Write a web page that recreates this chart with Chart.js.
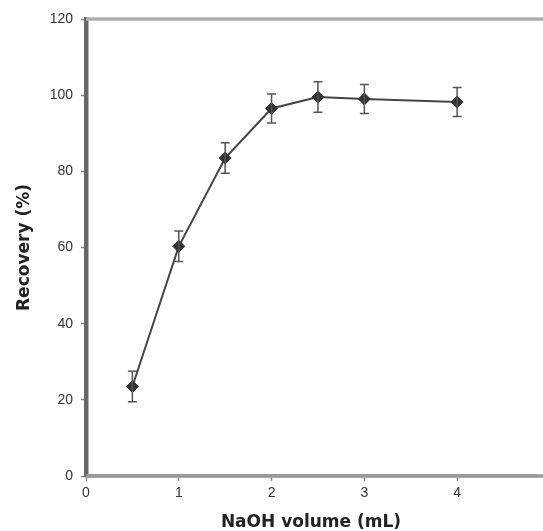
<!DOCTYPE html>
<html>
<head>
<meta charset="utf-8">
<script src="https://cdn.jsdelivr.net/npm/chart.js@4"></script>
<style>
    body { margin: 0; background: #fff; overflow: hidden; }
    #wrap { width: 543px; height: 531px; }
</style>
</head>
<body>
<div id="wrap"><canvas id="recovery-chart"></canvas></div>
<script>
const volumes = [0.5, 1, 1.5, 2, 2.5, 3, 4];
const recovery = [23.5, 60.3, 83.5, 96.5, 99.5, 99, 98.2];
const errors = [4, 4, 4, 3.8, 4, 3.8, 3.8];
const xTicks = [0, 1, 2, 3, 4];
const yTicks = [0, 20, 40, 60, 80, 100, 120];

const points = volumes.map((v, i) => ({ x: v, y: recovery[i] }));

// error bars + frame lines running off the right edge
const extrasPlugin = {
    id: 'extras',
    afterDatasetsDraw(chart) {
        const ctx = chart.ctx;
        const xs = chart.scales.x;
        const ys = chart.scales.y;
        ctx.save();
        ctx.strokeStyle = '#555';
        ctx.lineWidth = 1.5;
        volumes.forEach((v, i) => {
            const px = xs.getPixelForValue(v);
            const top = ys.getPixelForValue(recovery[i] + errors[i]);
            const bot = ys.getPixelForValue(recovery[i] - errors[i]);
            ctx.beginPath();
            ctx.moveTo(px, top);
            ctx.lineTo(px, bot);
            ctx.moveTo(px - 4.5, top);
            ctx.lineTo(px + 4.5, top);
            ctx.moveTo(px - 4.5, bot);
            ctx.lineTo(px + 4.5, bot);
            ctx.stroke();
        });
        ctx.restore();
    },
    afterDraw(chart) {
        const ctx = chart.ctx;
        const a = chart.chartArea;
        ctx.save();
        ctx.lineWidth = 3.5;
        ctx.strokeStyle = '#b0b0b0';
        ctx.beginPath();
        ctx.moveTo(a.left, a.top);
        ctx.lineTo(chart.width, a.top);
        ctx.stroke();
        ctx.strokeStyle = '#999';
        ctx.beginPath();
        ctx.moveTo(a.left, a.bottom);
        ctx.lineTo(chart.width, a.bottom);
        ctx.stroke();
        ctx.restore();
    }
};

const titleFont = { family: 'DejaVu Sans', size: 17, weight: 'bold', lineHeight: 1 };
const tickFont = { family: 'Arial, Liberation Sans', size: 14 };

const ctx = document.getElementById('recovery-chart').getContext('2d');
new Chart(ctx, {
    type: 'scatter',
    data: {
        datasets: [{
            data: points,
            showLine: true,
            borderColor: '#444',
            borderWidth: 2,
            pointStyle: 'rectRot',
            pointRadius: 6,
            pointBackgroundColor: '#333',
            pointBorderColor: '#333',
            pointBorderWidth: 1
        }]
    },
    options: {
        responsive: true,
        maintainAspectRatio: false,
        animation: false,
        layout: { padding: { top: 19, right: 0, left: 0, bottom: 0 } },
        plugins: {
            legend: { display: false },
            tooltip: { enabled: false }
        },
        scales: {
            x: {
                type: 'linear',
                min: 0,
                max: 4.85,
                afterBuildTicks: scale => { scale.ticks = xTicks.map(v => ({ value: v })); },
                afterFit: scale => { scale.height = 55; },
                ticks: { color: '#333', font: tickFont, padding: 4 },
                grid: { drawOnChartArea: false, tickLength: 5, color: '#888', tickWidth: 1.5 },
                border: { color: '#999', width: 3.5 },
                title: {
                    display: true,
                    text: 'NaOH volume (mL)',
                    color: '#222',
                    font: titleFont,
                    padding: { top: 4, bottom: 0 }
                }
            },
            y: {
                min: 0,
                max: 120,
                afterBuildTicks: scale => { scale.ticks = yTicks.map(v => ({ value: v })); },
                afterFit: scale => { scale.width = 86; },
                ticks: { color: '#333', font: tickFont, padding: 8 },
                grid: { drawOnChartArea: false, tickLength: 5, color: '#888', tickWidth: 1.5 },
                border: { color: '#666', width: 4.5 },
                title: {
                    display: true,
                    text: 'Recovery (%)',
                    color: '#222',
                    font: titleFont,
                    padding: { top: 16, bottom: 0 }
                }
            }
        }
    },
    plugins: [extrasPlugin]
});
</script>
</body>
</html>
